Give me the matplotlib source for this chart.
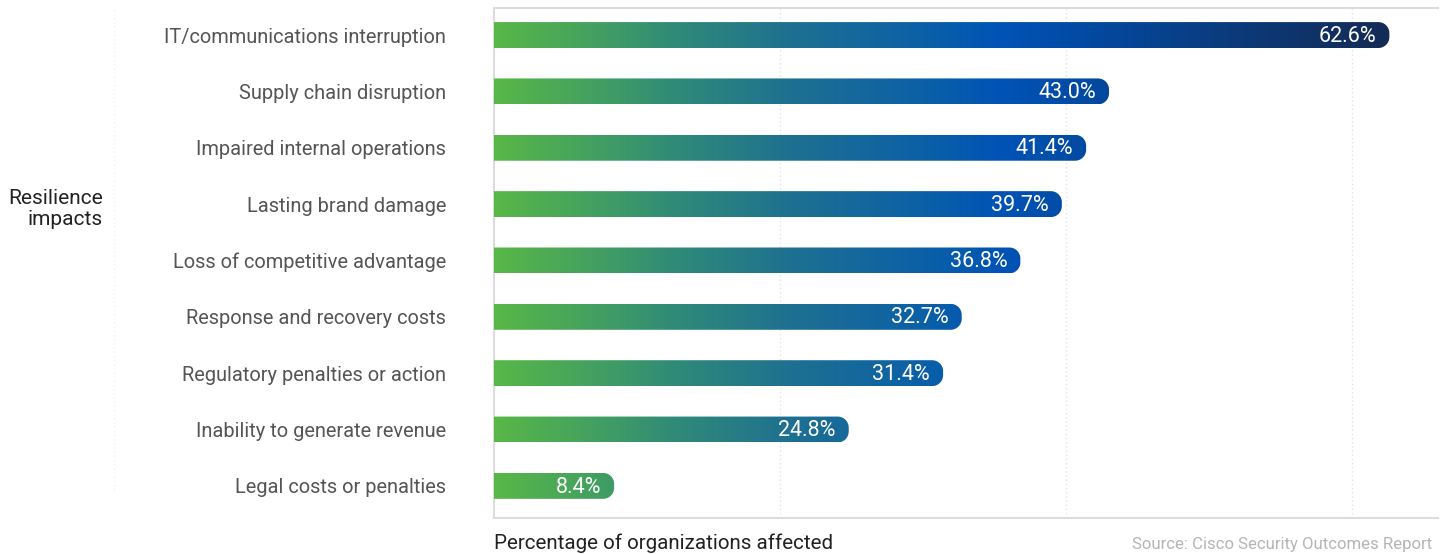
import numpy as np
import matplotlib
matplotlib.use("Agg")
import matplotlib.pyplot as plt
from matplotlib.colors import LinearSegmentedColormap, Normalize
from matplotlib.path import Path
from matplotlib.patches import PathPatch
from matplotlib.lines import Line2D

plt.rcParams["font.family"] = ["Roboto", "DejaVu Sans"]

categories = [
    "IT/communications interruption",
    "Supply chain disruption",
    "Impaired internal operations",
    "Lasting brand damage",
    "Loss of competitive advantage",
    "Response and recovery costs",
    "Regulatory penalties or action",
    "Inability to generate revenue",
    "Legal costs or penalties",
]
values = [62.6, 43.0, 41.4, 39.7, 36.8, 32.7, 31.4, 24.8, 8.4]
value_labels = ["62.6%", "43.0%", "41.4%", "39.7%", "36.8%", "32.7%", "31.4%", "24.8%", "8.4%"]
grid_ticks = [20, 40, 60]

# Gradient runs along the x axis (shared by every bar)
grad_stops = [
    (0.00, "#57b747"),
    (0.10, "#45a25f"),
    (0.20, "#2f8a78"),
    (0.32, "#1f7190"),
    (0.48, "#0a5fa8"),
    (0.56, "#0053b6"),
    (0.66, "#0349a0"),
    (0.82, "#0b3a7a"),
    (1.00, "#152a52"),
]
cmap = LinearSegmentedColormap.from_list("impact", grad_stops)
norm = Normalize(vmin=0, vmax=63.5)

W, H = 1442, 554
fig = plt.figure(figsize=(W / 100, H / 100), dpi=100)
ax = fig.add_axes([494 / W, 36 / H, (1438 - 494) / W, (518 - 8) / H])

n = len(categories)
ypos = np.arange(n)
XMAX = 66.0
ax.set_xlim(0, XMAX)
ax.set_ylim(n - 0.43, -0.48)

bar_h = 0.46
fig.canvas.draw()
# convert a corner radius in pixels into data units along each axis
px_per_x = ax.transData.transform((1, 0))[0] - ax.transData.transform((0, 0))[0]
px_per_y = abs(ax.transData.transform((0, 1))[1] - ax.transData.transform((0, 0))[1])
r_px = 11
rx = r_px / px_per_x
ry = r_px / px_per_y
k = 0.5523

xs = np.linspace(0, XMAX, 800)
grad = xs[np.newaxis, :]

for y, v, lab in zip(ypos, values, value_labels):
    y0, y1 = y - bar_h / 2, y + bar_h / 2
    verts = [
        (0, y0), (v - rx, y0),
        (v - rx + k * rx, y0), (v, y0 + ry - k * ry), (v, y0 + ry),
        (v, y1 - ry),
        (v, y1 - ry + k * ry), (v - rx + k * rx, y1), (v - rx, y1),
        (0, y1), (0, y0),
    ]
    codes = [Path.MOVETO, Path.LINETO,
             Path.CURVE4, Path.CURVE4, Path.CURVE4,
             Path.LINETO,
             Path.CURVE4, Path.CURVE4, Path.CURVE4,
             Path.LINETO, Path.CLOSEPOLY]
    clip = PathPatch(Path(verts, codes), facecolor="none", edgecolor="none",
                     transform=ax.transData)
    ax.add_patch(clip)
    im = ax.imshow(grad, cmap=cmap, norm=norm, aspect="auto",
                   extent=(0, XMAX, y1, y0), interpolation="bilinear", zorder=3)
    im.set_clip_path(clip)
    ax.text(v - 13 / px_per_x, y + 0.02, lab, color="white", fontsize=15.5,
            ha="right", va="center", zorder=4)

ax.set_xlim(0, XMAX)
ax.set_ylim(n - 0.43, -0.48)

for g in grid_ticks:
    ax.axvline(g, color="#e2e2e2", lw=1.0, ls=(0, (1, 2)), zorder=1)

ax.set_yticks(ypos)
ax.set_yticklabels(categories, fontsize=14.4, color="#555555")
ax.tick_params(axis="y", length=0, pad=34.5)
ax.set_xticks([])

for side in ["top", "bottom", "left"]:
    ax.spines[side].set_color("#dcdcdc")
    ax.spines[side].set_linewidth(1.5)
ax.spines["right"].set_visible(False)

# faint guide line on the far left
fig.add_artist(Line2D([114 / W, 114 / W], [(554 - 490) / H, (554 - 8) / H],
                      color="#f2f2f2", lw=1.0, ls=(0, (1, 2))))

fig.text(103 / W, 1 - 209 / H, "Resilience\nimpacts", fontsize=15, color="#222222",
         ha="right", va="center", multialignment="right", linespacing=1.1)
fig.text(494 / W, 1 - 543 / H, "Percentage of organizations affected", fontsize=14.8,
         color="#222222", ha="left", va="center")
fig.text(1432 / W, 1 - 545 / H, "Source: Cisco Security Outcomes Report", fontsize=12.1,
         color="#b5b5b5", ha="right", va="center")

fig.savefig("out.png", dpi=100, facecolor="white")
